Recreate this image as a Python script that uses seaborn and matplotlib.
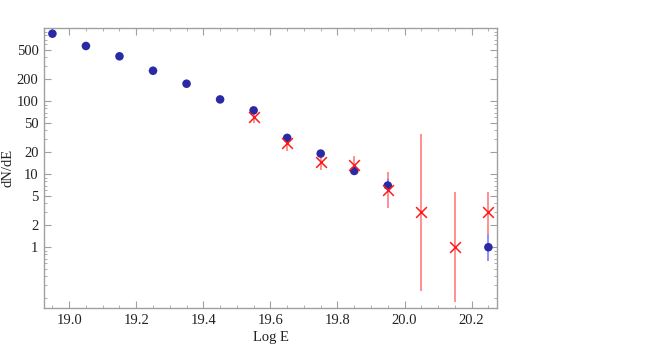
import seaborn as sns
import matplotlib.pyplot as plt
import matplotlib.ticker as mticker
import numpy as np
import pandas as pd

# dati
logE_blu = [18.95, 19.05, 19.15, 19.25, 19.35, 19.45, 19.55, 19.65, 19.75, 19.85, 19.95, 20.25]
dnde_blu = [843, 572, 413, 262, 174, 106, 75, 31.5, 19.2, 11.1, 7.0, 1.0]
blu_basso = [830, 562, 405, 257, 170, 103, 72, 29.5, 17.8, 10.2, 5.8, 0.64]
blu_alto = [856, 582, 421, 267, 178, 109, 78, 33.5, 20.6, 12.0, 8.6, 1.52]

logE_rosso = [19.55, 19.65, 19.75, 19.85, 19.95, 20.05, 20.15, 20.25]
dnde_rosso = [61.5, 26.6, 14.9, 13.4, 6.15, 3.05, 1.0, 3.05]
rosso_basso = [50, 21, 11.5, 10.0, 3.4, 0.255, 0.177, 1.5]
rosso_alto = [74, 32, 19.0, 18.0, 10.6, 35.6, 5.7, 5.7]

blu = pd.DataFrame({"logE": logE_blu, "dNdE": dnde_blu})
rosso = pd.DataFrame({"logE": logE_rosso, "dNdE": dnde_rosso})

sns.set_style("ticks")
plt.rcParams['font.family'] = ['Liberation Serif', 'DejaVu Serif']

fig = plt.figure(figsize=(6.6, 3.46), dpi=100)
ax = fig.add_axes([0.0667, 0.1098, 0.6865, 0.8102])
ax.set_yscale("log")

# barre d'errore
ax.errorbar(logE_rosso, dnde_rosso,
            yerr=[np.array(dnde_rosso) - np.array(rosso_basso), np.array(rosso_alto) - np.array(dnde_rosso)],
            fmt="none", ecolor=(1, 0.45, 0.45), elinewidth=1.1, zorder=2)
ax.errorbar(logE_blu, dnde_blu,
            yerr=[np.array(dnde_blu) - np.array(blu_basso), np.array(blu_alto) - np.array(dnde_blu)],
            fmt="none", ecolor=(0.45, 0.45, 1), elinewidth=1.1, zorder=3)

sns.scatterplot(data=blu, x="logE", y="dNdE", ax=ax, color="#2a2aa6", s=38,
                edgecolor="none", zorder=4)
sns.scatterplot(data=rosso, x="logE", y="dNdE", ax=ax, color="#ff1a1a", marker="x",
                s=60, linewidth=1.1, zorder=5)

ax.set_xlim(18.925, 20.276)
ax.set_ylim(0.147, 1019)

ax.xaxis.set_major_locator(mticker.MultipleLocator(0.2))
ax.xaxis.set_minor_locator(mticker.MultipleLocator(0.05))
ax.xaxis.set_major_formatter(mticker.FormatStrFormatter("%.1f"))
yt = [1, 2, 5, 10, 20, 50, 100, 200, 500]
ax.set_yticks(yt)
ax.set_yticklabels([str(v) for v in yt])
ax.yaxis.set_minor_locator(mticker.LogLocator(base=10, subs=np.arange(2, 10)))
ax.yaxis.set_minor_formatter(mticker.NullFormatter())

grigio = "#a0a0a0"
for s in ax.spines.values():
    s.set_color(grigio)
    s.set_linewidth(1.0)
ax.tick_params(which="both", direction="in", top=True, right=True, color=grigio,
               labelsize=10.5, labelcolor="#222222", pad=4)
ax.tick_params(which="major", length=5, width=0.8)
ax.tick_params(which="minor", length=2.5, width=0.6)

ax.set_xlabel("Log E", fontsize=10.5, color="#222222")
ax.set_ylabel("dN/dE", fontsize=10.5, color="#222222", va="center")
ax.xaxis.set_label_coords(0.5, -0.082)
ax.yaxis.set_label_coords(-0.0795, 0.5)

fig.savefig("out.png", dpi=100)
